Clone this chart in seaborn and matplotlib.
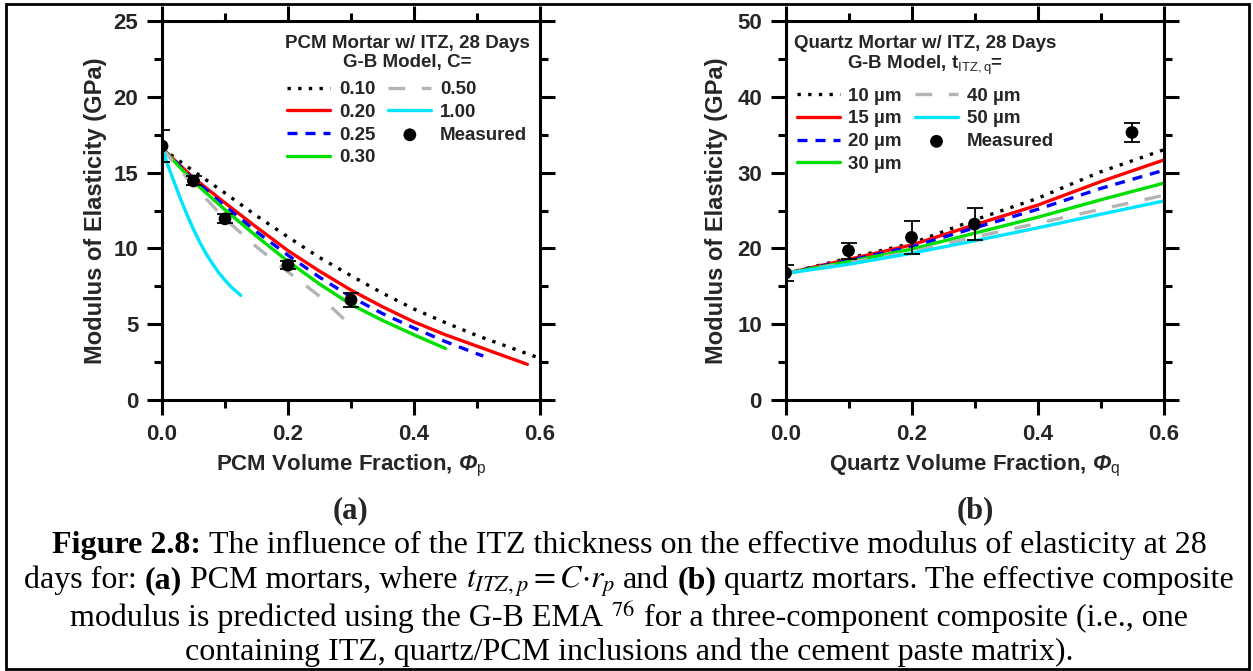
import numpy as np
import pandas as pd
import matplotlib
matplotlib.use("Agg")
import matplotlib.pyplot as plt
import seaborn as sns
from matplotlib.offsetbox import TextArea, HPacker, AnchoredOffsetbox
from matplotlib.patches import Rectangle

# ---------------- data ----------------
# (a) PCM mortar, G-B model for several C
pcm_x_010 = [0, 0.05, 0.1, 0.15, 0.2, 0.25, 0.3, 0.35, 0.4, 0.45, 0.5, 0.55, 0.6]
pcm_y_010 = [16.6, 15.1, 13.65, 12.15, 10.75, 9.4, 8.2, 7.05, 6.0, 5.1, 4.25, 3.5, 2.75]
pcm_x_020 = [0, 0.05, 0.1, 0.15, 0.2, 0.25, 0.3, 0.35, 0.4, 0.45, 0.5, 0.55, 0.58]
pcm_y_020 = [16.6, 14.65, 13.0, 11.4, 9.85, 8.5, 7.25, 6.15, 5.15, 4.3, 3.55, 2.8, 2.35]
pcm_x_025 = [0, 0.05, 0.1, 0.15, 0.2, 0.25, 0.3, 0.35, 0.4, 0.45, 0.5, 0.51]
pcm_y_025 = [16.6, 14.55, 12.8, 11.1, 9.55, 8.1, 6.8, 5.7, 4.75, 3.85, 3.05, 2.9]
pcm_x_030 = [0, 0.05, 0.1, 0.15, 0.2, 0.25, 0.3, 0.35, 0.4, 0.45]
pcm_y_030 = [16.6, 14.4, 12.55, 10.8, 9.15, 7.65, 6.3, 5.25, 4.3, 3.4]
pcm_x_050 = [0, 0.05, 0.1, 0.15, 0.2, 0.25, 0.295]
pcm_y_050 = [16.6, 14.15, 11.95, 10.1, 8.45, 6.85, 5.1]
pcm_x_100 = [0, 0.01, 0.02, 0.03, 0.04, 0.05, 0.06, 0.07, 0.08, 0.09, 0.1, 0.11, 0.125]
pcm_y_100 = [16.6, 15.4, 14.3, 13.2, 12.2, 11.25, 10.4, 9.65, 9.0, 8.4, 7.9, 7.45, 6.9]
pcm_meas_x = [0, 0.05, 0.1, 0.2, 0.3]
pcm_meas_y = [16.75, 14.45, 11.95, 8.9, 6.6]
pcm_meas_err = [1.05, 0.3, 0.3, 0.25, 0.45]
pcm_labels = ["0.10", "0.20", "0.25", "0.30", "0.50", "1.00"]

# (b) Quartz mortar, G-B model for several ITZ thicknesses
qtz_x = [0, 0.1, 0.2, 0.3, 0.4, 0.5, 0.6]
qtz_y_10 = [16.7, 18.7, 20.65, 23.75, 26.6, 30.1, 33.0]
qtz_y_15 = [16.7, 18.55, 20.45, 23.1, 25.7, 28.8, 31.65]
qtz_y_20 = [16.7, 18.4, 20.2, 22.7, 25.15, 27.9, 30.3]
qtz_y_30 = [16.7, 18.25, 19.9, 22.0, 24.1, 26.4, 28.6]
qtz_y_40 = [16.7, 18.1, 19.55, 21.5, 23.3, 25.15, 27.0]
qtz_y_50 = [16.7, 17.9, 19.35, 21.0, 22.7, 24.5, 26.25]
qtz_meas_x = [0, 0.1, 0.2, 0.3, 0.55]
qtz_meas_y = [16.75, 19.7, 21.45, 23.2, 35.3]
qtz_meas_err = [1.05, 1.05, 2.2, 2.1, 1.3]
qtz_labels = ["10 µm", "15 µm", "20 µm", "30 µm", "40 µm", "50 µm"]

# ---------------- styling ----------------
sns.set_style("ticks")
plt.rcParams["font.family"] = ["Liberation Sans", "DejaVu Sans"]
plt.rcParams["mathtext.fontset"] = "custom"
plt.rcParams["mathtext.rm"] = "Liberation Sans"
plt.rcParams["mathtext.it"] = "Liberation Sans:italic"
plt.rcParams["mathtext.bf"] = "Liberation Sans:bold"
has_bfit = "mathtext.bfit" in plt.rcParams
if has_bfit:
    plt.rcParams["mathtext.bfit"] = "Liberation Sans:italic:bold"

colors = ["black", "#ff0000", "#0000ff", "#00e000", "#b4b4b4", "#00e5ff"]
styles = [(0, (1, 2.2)), "-", (0, (3, 2.4)), "-", (0, (5, 5)), "-"]
LW = 2.4

W, H = 1253, 671
fig = plt.figure(figsize=(W / 100, H / 100), dpi=100)
fig.patch.set_facecolor("white")

ax1 = fig.add_axes([162 / W, 1 - 400 / H, 378 / W, 379 / H])
ax2 = fig.add_axes([785.5 / W, 1 - 400 / H, 378 / W, 379 / H])


def draw_panel(ax, xs, ys, labels, mx, my, merr):
    for x, y, lab, c, ls in zip(xs, ys, labels, colors, styles):
        sns.lineplot(x=x, y=y, ax=ax, color=c, linestyle=ls, lw=LW, label=lab)
    ax.errorbar(mx, my, yerr=merr, fmt="none", ecolor="black", elinewidth=1.3,
                capsize=6, capthick=1.3, zorder=5)
    sns.scatterplot(x=mx, y=my, ax=ax, color="black", s=85, edgecolor="none",
                    label="Measured", zorder=6)


draw_panel(ax1, [pcm_x_010, pcm_x_020, pcm_x_025, pcm_x_030, pcm_x_050, pcm_x_100],
           [pcm_y_010, pcm_y_020, pcm_y_025, pcm_y_030, pcm_y_050, pcm_y_100],
           pcm_labels, pcm_meas_x, pcm_meas_y, pcm_meas_err)
draw_panel(ax2, [qtz_x] * 6,
           [qtz_y_10, qtz_y_15, qtz_y_20, qtz_y_30, qtz_y_40, qtz_y_50],
           qtz_labels, qtz_meas_x, qtz_meas_y, qtz_meas_err)

for ax, ymax, ymaj, ymin in [(ax1, 25, 5, 2.5), (ax2, 50, 10, 5)]:
    ax.set_xlim(0, 0.6)
    ax.set_ylim(0, ymax)
    ax.set_xticks([0, 0.2, 0.4, 0.6])
    ax.set_xticks([0.1, 0.3, 0.5], minor=True)
    ax.set_xticklabels(["0.0", "0.2", "0.4", "0.6"])
    ax.set_yticks(np.arange(0, ymax + 0.1, ymaj))
    ax.set_yticks(np.arange(ymin, ymax, ymaj), minor=True)
    ax.set_yticklabels([str(int(v)) for v in np.arange(0, ymax + 0.1, ymaj)])
    ax.tick_params(which="both", direction="out", top=True, right=True,
                   width=2.2, color="black")
    ax.tick_params(which="major", length=11, labelsize=16, pad=6)
    ax.tick_params(which="minor", length=5.5)
    for lab in ax.get_xticklabels() + ax.get_yticklabels():
        lab.set_fontweight("bold")
    for sp in ax.spines.values():
        sp.set_linewidth(2.2)
        sp.set_color("black")
    ax.set_ylabel("Modulus of Elasticity (GPa)", fontsize=17, fontweight="bold")
    ax.set_facecolor("white")

if has_bfit:
    xl1 = r"PCM Volume Fraction, $\mathbfit{Φ}_{\mathrm{p}}$"
    xl2 = r"Quartz Volume Fraction, $\mathbfit{Φ}_{\mathrm{q}}$"
else:
    xl1 = r"PCM Volume Fraction, Φ$_{\mathrm{p}}$"
    xl2 = r"Quartz Volume Fraction, Φ$_{\mathrm{q}}$"
ax1.set_xlabel(xl1, fontsize=16, fontweight="bold")
ax2.set_xlabel(xl2, fontsize=16, fontweight="bold")
ax1.xaxis.set_label_coords(0.5, -0.14)
ax2.xaxis.set_label_coords(0.5, -0.14)
ax1.yaxis.set_label_coords(-0.145, 0.5)
ax2.yaxis.set_label_coords(-0.152, 0.5)

LEG = 13.5


def make_legend(ax, title, anchor):
    handles, labels = ax.get_legend_handles_labels()
    leg = ax.legend(handles, labels, ncol=2, loc="upper left", bbox_to_anchor=anchor,
                    frameon=False, borderpad=0, borderaxespad=0,
                    handlelength=2.3, handletextpad=0.45, columnspacing=0.7,
                    labelspacing=0.3,
                    prop={"family": "Liberation Sans", "weight": "bold", "size": LEG},
                    title=title,
                    title_fontproperties={"family": "Liberation Sans", "weight": "bold",
                                          "size": LEG})
    leg.get_title().set_linespacing(1.15)
    leg.get_title().set_multialignment("center")
    leg._legend_box.sep = 0.3 * LEG + 3.5
    for h in leg.legend_handles:
        try:
            h.set_linewidth(LW)
        except Exception:
            pass
    return leg


make_legend(ax1, "PCM Mortar w/ ITZ, 28 Days\nG-B Model, C=", (0.3245, 0.964))
make_legend(ax2, "Quartz Mortar w/ ITZ, 28 Days\n" + r"G-B Model, t$_{\mathrm{ITZ,q}}$=",
            (0.0225, 0.964))

# panel tags
for xc, tag in [(351, "(a)"), (975, "(b)")]:
    fig.text(xc / W, 1 - 518 / H, tag, ha="center", va="baseline", fontsize=22,
             fontweight="bold", family="Liberation Serif")

# caption
CAP = 23


def caption_line(parts, ycenter):
    kids = []
    for txt, kind in parts:
        props = dict(family="Liberation Serif", size=CAP, color="black", weight="normal")
        if kind == "b":
            props["weight"] = "bold"
        if kind == "m":
            props["math_fontfamily"] = "stix"
        kids.append(TextArea(txt, textprops=props))
    box = HPacker(children=kids, align="baseline", pad=0, sep=CAP * 0.25)
    anch = AnchoredOffsetbox(loc="center", child=box, pad=0, borderpad=0, frameon=False,
                             bbox_to_anchor=(629 / W, 1 - ycenter / H),
                             bbox_transform=fig.transFigure)
    fig.add_artist(anch)


caption_line([("Figure 2.8:", "b"),
              ("The influence of the ITZ thickness on the effective modulus of elasticity at 28", "n")],
             545)
caption_line([("days for:", "n"), ("(a)", "b"), ("PCM mortars, where", "n"),
              (r"$t_{ITZ,p}=C{\cdot}r_p$", "m"), ("and", "n"), ("(b)", "b"),
              ("quartz mortars. The effective composite", "n")], 582)
caption_line([("modulus is predicted using the G-B EMA", "n"), (r"${}^{76}$", "m"),
              ("for a three-component composite (i.e., one", "n")], 618)
caption_line([("containing ITZ, quartz/PCM inclusions and the cement paste matrix).", "n")], 652)

# figure border
fig.add_artist(Rectangle((6 / W, 1 - 669 / H), (1249 - 6) / W, (669 - 4) / H,
                         transform=fig.transFigure, fill=False, edgecolor="black",
                         linewidth=2))

fig.savefig("out.png", dpi=100, facecolor="white")
